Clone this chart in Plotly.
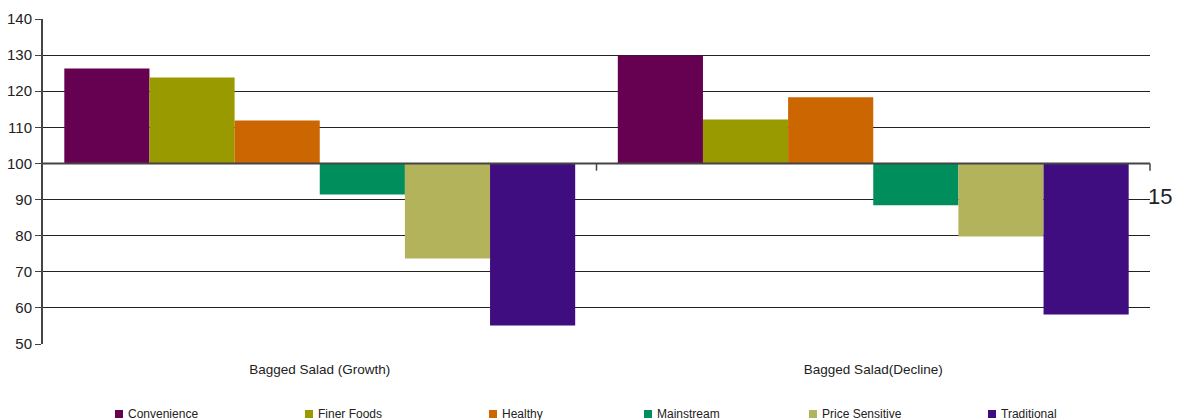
import plotly.graph_objects as go

categories = ["Bagged Salad (Growth)", "Bagged Salad(Decline)"]
segments = ["Convenience", "Finer Foods", "Healthy", "Mainstream", "Price Sensitive", "Traditional"]
colors = ["#660050", "#999900", "#CC6600", "#008F5C", "#B3B35C", "#400D80"]
convenience = [126.3, 129.9]
finer_foods = [123.8, 112.2]
healthy = [111.9, 118.3]
mainstream = [91.4, 88.4]
price_sensitive = [73.7, 79.8]
traditional = [55.1, 58.2]
series = [convenience, finer_foods, healthy, mainstream, price_sensitive, traditional]
baseline = 100
y_ticks = list(range(50, 141, 10))

W, H = 1179, 420
ML, MR, MT, MB = 43, 29, 19, 76

fig = go.Figure()
for name, vals, col in zip(segments, series, colors):
    fig.add_trace(go.Bar(
        name=name, x=categories, y=[v - baseline for v in vals], base=baseline,
        marker=dict(color=col, line=dict(width=0)),
        hovertemplate="%{x}<br>" + name + ": %{customdata}<extra></extra>",
        customdata=vals, showlegend=False,
    ))

axis_col = "#444444"
fig.update_layout(
    width=W, height=H,
    margin=dict(l=ML, r=MR, t=MT, b=MB, autoexpand=False),
    paper_bgcolor="white", plot_bgcolor="white",
    barmode="group", bargap=0.077, bargroupgap=0,
    font=dict(family="Liberation Sans, Arial, sans-serif", color="#222222"),
    showlegend=False,
    xaxis=dict(
        showgrid=False, showline=False, zeroline=False, ticks="",
        tickfont=dict(size=13.5, color="#222222"), ticklabelstandoff=15,
    ),
    yaxis=dict(
        range=[50, 140], tickvals=y_ticks, showgrid=True, gridcolor="#222222", gridwidth=1,
        showline=True, linecolor=axis_col, linewidth=2, ticks="outside", ticklen=6,
        tickcolor=axis_col, zeroline=False, tickfont=dict(size=15, color="#222222"),
    ),
)

# Category axis drawn across the 100 baseline, with a divider tick between groups
fig.add_shape(type="line", xref="paper", yref="y", x0=0, x1=1, y0=baseline, y1=baseline,
              line=dict(color=axis_col, width=2), layer="above")
fig.add_shape(type="line", xref="x", yref="y", x0=0.5, x1=0.5, y0=baseline, y1=baseline - 2,
              line=dict(color=axis_col, width=1.5), layer="above")
fig.add_shape(type="line", xref="paper", yref="y", x0=1, x1=1, y0=baseline, y1=baseline - 2,
              line=dict(color=axis_col, width=1.5), layer="above")
fig.add_annotation(text="15", xref="paper", yref="y", x=1.0, y=90.8, xanchor="left",
                   yanchor="middle", showarrow=False, xshift=-4,
                   font=dict(size=22, color="#222222"))

# Legend row along the bottom: a small swatch followed by the series name
pw = W - ML - MR
ph = H - MT - MB
legend_x = [115, 305, 489, 644, 809, 988]  # swatch left edges in pixels
legend_y = 414
for name, col, px in zip(segments, colors, legend_x):
    x0 = (px - ML) / pw
    x1 = (px + 8 - ML) / pw
    y0 = (H - MB - (legend_y + 4)) / ph
    y1 = (H - MB - (legend_y - 4)) / ph
    fig.add_shape(type="rect", xref="paper", yref="paper", x0=x0, x1=x1, y0=y0, y1=y1,
                  fillcolor=col, line=dict(width=0))
    fig.add_annotation(text=name, xref="paper", yref="paper", x=(px + 11 - ML) / pw,
                       y=(H - MB - legend_y) / ph, xanchor="left", yanchor="middle",
                       showarrow=False, font=dict(size=12, color="#222222"))

fig.write_html("out.html")
